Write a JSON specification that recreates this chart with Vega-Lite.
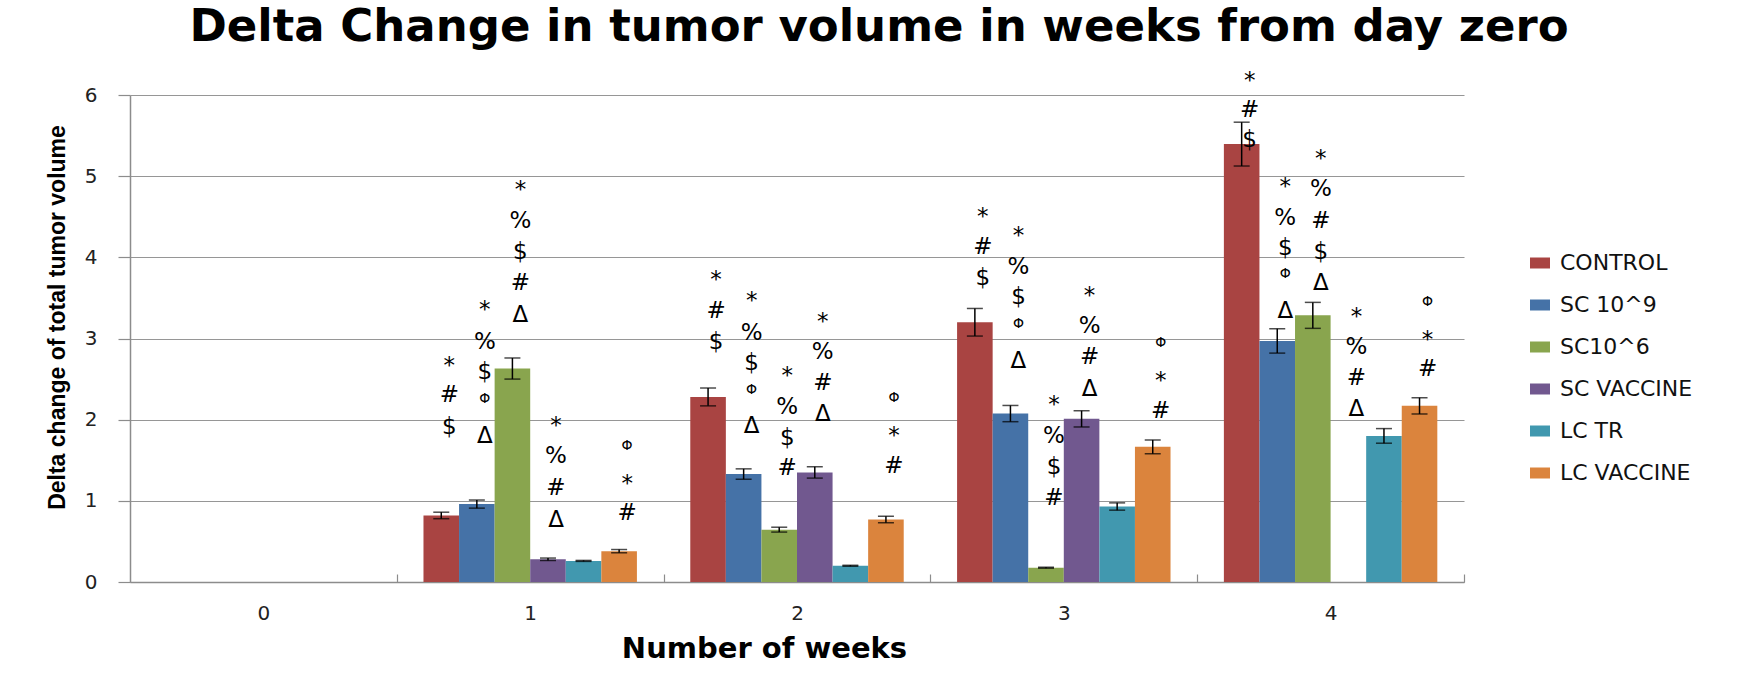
{
  "$schema": "https://vega.github.io/schema/vega-lite/v6.json",
  "width": 1334,
  "height": 487,
  "autosize": {"type": "none"},
  "padding": {"left": 130, "top": 95, "right": 298, "bottom": 105},
  "background": "white",
  "title": {
    "text": "Delta Change in tumor volume in weeks from day zero",
    "font": "DejaVu Sans",
    "fontSize": 45,
    "fontWeight": "bold",
    "color": "#000000",
    "anchor": "middle",
    "frame": "group",
    "dx": 82,
    "baseline": "alphabetic",
    "offset": -16
  },
  "datasets": {
    "bars": [
      {"week": 1, "group": "CONTROL", "value": 0.82, "err": 0.04},
      {"week": 1, "group": "SC 10^9", "value": 0.96, "err": 0.05},
      {"week": 1, "group": "SC10^6", "value": 2.63, "err": 0.13},
      {"week": 1, "group": "SC VACCINE", "value": 0.28, "err": 0.015},
      {"week": 1, "group": "LC TR", "value": 0.26, "err": 0.006},
      {"week": 1, "group": "LC VACCINE", "value": 0.38, "err": 0.02},
      {"week": 2, "group": "CONTROL", "value": 2.28, "err": 0.11},
      {"week": 2, "group": "SC 10^9", "value": 1.33, "err": 0.064},
      {"week": 2, "group": "SC10^6", "value": 0.645, "err": 0.03},
      {"week": 2, "group": "SC VACCINE", "value": 1.35, "err": 0.07},
      {"week": 2, "group": "LC TR", "value": 0.2, "err": 0.006},
      {"week": 2, "group": "LC VACCINE", "value": 0.77, "err": 0.04},
      {"week": 3, "group": "CONTROL", "value": 3.2, "err": 0.17},
      {"week": 3, "group": "SC 10^9", "value": 2.075, "err": 0.1},
      {"week": 3, "group": "SC10^6", "value": 0.176, "err": 0.006},
      {"week": 3, "group": "SC VACCINE", "value": 2.01, "err": 0.1},
      {"week": 3, "group": "LC TR", "value": 0.93, "err": 0.045},
      {"week": 3, "group": "LC VACCINE", "value": 1.665, "err": 0.085},
      {"week": 4, "group": "CONTROL", "value": 5.395, "err": 0.27},
      {"week": 4, "group": "SC 10^9", "value": 2.97, "err": 0.15},
      {"week": 4, "group": "SC10^6", "value": 3.285, "err": 0.16},
      {"week": 4, "group": "LC TR", "value": 1.8, "err": 0.09},
      {"week": 4, "group": "LC VACCINE", "value": 2.17, "err": 0.1}
    ],
    "notes": [
      {"week": 1, "group": "CONTROL", "sym": "*", "pos": 2.74},
      {"week": 1, "group": "CONTROL", "sym": "#", "pos": 2.31},
      {"week": 1, "group": "CONTROL", "sym": "$", "pos": 1.91},
      {"week": 1, "group": "SC 10^9", "sym": "*", "pos": 3.42},
      {"week": 1, "group": "SC 10^9", "sym": "%", "pos": 2.96},
      {"week": 1, "group": "SC 10^9", "sym": "$", "pos": 2.59},
      {"week": 1, "group": "SC 10^9", "sym": "Φ", "pos": 2.25},
      {"week": 1, "group": "SC 10^9", "sym": "Δ", "pos": 1.8},
      {"week": 1, "group": "SC10^6", "sym": "*", "pos": 4.9},
      {"week": 1, "group": "SC10^6", "sym": "%", "pos": 4.45},
      {"week": 1, "group": "SC10^6", "sym": "$", "pos": 4.07},
      {"week": 1, "group": "SC10^6", "sym": "#", "pos": 3.68},
      {"week": 1, "group": "SC10^6", "sym": "Δ", "pos": 3.29},
      {"week": 1, "group": "SC VACCINE", "sym": "*", "pos": 1.99},
      {"week": 1, "group": "SC VACCINE", "sym": "%", "pos": 1.55},
      {"week": 1, "group": "SC VACCINE", "sym": "#", "pos": 1.155},
      {"week": 1, "group": "SC VACCINE", "sym": "Δ", "pos": 0.77},
      {"week": 1, "group": "LC VACCINE", "sym": "Φ", "pos": 1.68},
      {"week": 1, "group": "LC VACCINE", "sym": "*", "pos": 1.28},
      {"week": 1, "group": "LC VACCINE", "sym": "#", "pos": 0.85},
      {"week": 2, "group": "CONTROL", "sym": "*", "pos": 3.79},
      {"week": 2, "group": "CONTROL", "sym": "#", "pos": 3.34},
      {"week": 2, "group": "CONTROL", "sym": "$", "pos": 2.96},
      {"week": 2, "group": "SC 10^9", "sym": "*", "pos": 3.54},
      {"week": 2, "group": "SC 10^9", "sym": "%", "pos": 3.07},
      {"week": 2, "group": "SC 10^9", "sym": "$", "pos": 2.7},
      {"week": 2, "group": "SC 10^9", "sym": "Φ", "pos": 2.37},
      {"week": 2, "group": "SC 10^9", "sym": "Δ", "pos": 1.92},
      {"week": 2, "group": "SC10^6", "sym": "*", "pos": 2.61},
      {"week": 2, "group": "SC10^6", "sym": "%", "pos": 2.16},
      {"week": 2, "group": "SC10^6", "sym": "$", "pos": 1.78},
      {"week": 2, "group": "SC10^6", "sym": "#", "pos": 1.4},
      {"week": 2, "group": "SC VACCINE", "sym": "*", "pos": 3.28},
      {"week": 2, "group": "SC VACCINE", "sym": "%", "pos": 2.83},
      {"week": 2, "group": "SC VACCINE", "sym": "#", "pos": 2.45},
      {"week": 2, "group": "SC VACCINE", "sym": "Δ", "pos": 2.07},
      {"week": 2, "group": "LC VACCINE", "sym": "Φ", "pos": 2.27},
      {"week": 2, "group": "LC VACCINE", "sym": "*", "pos": 1.87},
      {"week": 2, "group": "LC VACCINE", "sym": "#", "pos": 1.43},
      {"week": 3, "group": "CONTROL", "sym": "*", "pos": 4.57},
      {"week": 3, "group": "CONTROL", "sym": "#", "pos": 4.13},
      {"week": 3, "group": "CONTROL", "sym": "$", "pos": 3.74},
      {"week": 3, "group": "SC 10^9", "sym": "*", "pos": 4.34},
      {"week": 3, "group": "SC 10^9", "sym": "%", "pos": 3.88},
      {"week": 3, "group": "SC 10^9", "sym": "$", "pos": 3.51},
      {"week": 3, "group": "SC 10^9", "sym": "Φ", "pos": 3.18},
      {"week": 3, "group": "SC 10^9", "sym": "Δ", "pos": 2.72},
      {"week": 3, "group": "SC10^6", "sym": "*", "pos": 2.25},
      {"week": 3, "group": "SC10^6", "sym": "%", "pos": 1.8},
      {"week": 3, "group": "SC10^6", "sym": "$", "pos": 1.42},
      {"week": 3, "group": "SC10^6", "sym": "#", "pos": 1.03},
      {"week": 3, "group": "SC VACCINE", "sym": "*", "pos": 3.6},
      {"week": 3, "group": "SC VACCINE", "sym": "%", "pos": 3.16},
      {"week": 3, "group": "SC VACCINE", "sym": "#", "pos": 2.77},
      {"week": 3, "group": "SC VACCINE", "sym": "Δ", "pos": 2.38},
      {"week": 3, "group": "LC VACCINE", "sym": "Φ", "pos": 2.94},
      {"week": 3, "group": "LC VACCINE", "sym": "*", "pos": 2.55},
      {"week": 3, "group": "LC VACCINE", "sym": "#", "pos": 2.11},
      {"week": 4, "group": "CONTROL", "sym": "*", "pos": 6.25},
      {"week": 4, "group": "CONTROL", "sym": "#", "pos": 5.82},
      {"week": 4, "group": "CONTROL", "sym": "$", "pos": 5.44},
      {"week": 4, "group": "SC 10^9", "sym": "*", "pos": 4.94},
      {"week": 4, "group": "SC 10^9", "sym": "%", "pos": 4.49},
      {"week": 4, "group": "SC 10^9", "sym": "$", "pos": 4.12},
      {"week": 4, "group": "SC 10^9", "sym": "Φ", "pos": 3.79},
      {"week": 4, "group": "SC 10^9", "sym": "Δ", "pos": 3.34},
      {"week": 4, "group": "SC10^6", "sym": "*", "pos": 5.28},
      {"week": 4, "group": "SC10^6", "sym": "%", "pos": 4.84},
      {"week": 4, "group": "SC10^6", "sym": "#", "pos": 4.45},
      {"week": 4, "group": "SC10^6", "sym": "$", "pos": 4.07},
      {"week": 4, "group": "SC10^6", "sym": "Δ", "pos": 3.68},
      {"week": 4, "group": "SC VACCINE", "sym": "*", "pos": 3.34},
      {"week": 4, "group": "SC VACCINE", "sym": "%", "pos": 2.9},
      {"week": 4, "group": "SC VACCINE", "sym": "#", "pos": 2.51},
      {"week": 4, "group": "SC VACCINE", "sym": "Δ", "pos": 2.13},
      {"week": 4, "group": "LC VACCINE", "sym": "Φ", "pos": 3.45},
      {"week": 4, "group": "LC VACCINE", "sym": "*", "pos": 3.06},
      {"week": 4, "group": "LC VACCINE", "sym": "#", "pos": 2.62}
    ]
  },
  "encoding": {
    "x": {
      "field": "week",
      "type": "ordinal",
      "scale": {"domain": [0, 1, 2, 3, 4], "paddingInner": 0.2, "paddingOuter": 0.1},
      "axis": {
        "title": "Number of weeks",
        "titleFont": "DejaVu Sans",
        "titleFontSize": 29,
        "titleFontWeight": "bold",
        "titleColor": "#000000",
        "titleX": 634,
        "titleY": 75,
        "titleBaseline": "alphabetic",
        "titleAlign": "center",
        "labelAngle": 0,
        "labelFont": "DejaVu Sans",
        "labelFontSize": 20,
        "labelColor": "#222222",
        "labelPadding": 29,
        "bandPosition": 1,
        "tickExtra": false,
        "tickOffset": 26.68,
        "labelOffset": -26.68,
        "tickSize": -8,
        "tickColor": "#8c8c8c",
        "tickWidth": 1.2,
        "domainColor": "#8c8c8c",
        "domainWidth": 1.5,
        "grid": false
      }
    },
    "xOffset": {
      "field": "group",
      "type": "nominal",
      "scale": {"domain": ["CONTROL", "SC 10^9", "SC10^6", "SC VACCINE", "LC TR", "LC VACCINE"], "paddingInner": 0, "paddingOuter": 0}
    }
  },
  "layer": [
    {
      "data": {"name": "bars"},
      "mark": {"type": "bar", "strokeWidth": 0},
      "encoding": {
        "y": {
          "field": "value",
          "type": "quantitative",
          "scale": {"domain": [0, 6], "nice": false, "zero": true},
          "axis": {
            "title": "Delta change of total tumor volume",
            "titleFont": "Liberation Sans",
            "titleFontSize": 23,
            "titleFontWeight": "bold",
            "titleColor": "#000000",
            "titleAngle": -90,
            "titleX": -66,
            "titleY": 222,
            "titleBaseline": "alphabetic",
            "titleAlign": "center",
            "values": [0, 1, 2, 3, 4, 5, 6],
            "format": "d",
            "labelFont": "DejaVu Sans",
            "labelFontSize": 20,
            "labelColor": "#222222",
            "labelPadding": 21,
            "tickSize": 12,
            "tickColor": "#8c8c8c",
            "tickWidth": 1.2,
            "domainColor": "#8c8c8c",
            "domainWidth": 1.5,
            "grid": true,
            "gridColor": "#969696",
            "gridWidth": 1.2
          }
        },
        "color": {
          "field": "group",
          "type": "nominal",
          "scale": {
            "domain": ["CONTROL", "SC 10^9", "SC10^6", "SC VACCINE", "LC TR", "LC VACCINE"],
            "range": ["#A94442", "#4572A7", "#89A54E", "#71588F", "#4198AF", "#DB843D"]
          },
          "legend": {
            "title": null,
            "orient": "none",
            "legendX": 1399,
            "legendY": 157,
            "padding": 0,
            "symbolType": "M-1,-0.55H1V0.55H-1Z",
            "symbolSize": 400,
            "symbolStrokeWidth": 0,
            "symbolOpacity": 1,
            "labelFont": "DejaVu Sans",
            "labelFontSize": 22,
            "labelColor": "#111111",
            "labelOffset": 9,
            "labelLimit": 400,
            "rowPadding": 20
          }
        }
      }
    },
    {
      "data": {"name": "bars"},
      "transform": [
        {"calculate": "datum.value - datum.err", "as": "lo"},
        {"calculate": "datum.value + datum.err", "as": "hi"}
      ],
      "layer": [
        {
          "mark": {"type": "rule", "color": "#000000", "strokeWidth": 1.5},
          "encoding": {
            "y": {"field": "lo", "type": "quantitative"},
            "y2": {"field": "hi"}
          }
        },
        {
          "mark": {"type": "tick", "color": "#000000", "thickness": 1.5, "size": 16},
          "encoding": {"y": {"field": "lo", "type": "quantitative"}}
        },
        {
          "mark": {"type": "tick", "color": "#000000", "thickness": 1.5, "size": 16},
          "encoding": {"y": {"field": "hi", "type": "quantitative"}}
        }
      ]
    },
    {
      "data": {"name": "notes"},
      "transform": [{"filter": "datum.sym !== '*'"}],
      "mark": {"type": "text", "font": "DejaVu Sans", "color": "#000000", "align": "center", "baseline": "middle", "dx": 8},
      "encoding": {
        "y": {"field": "pos", "type": "quantitative"},
        "text": {"field": "sym"},
        "size": {"condition": {"test": "datum.sym === 'Φ'", "value": 14}, "value": 23}
      }
    },
    {
      "data": {"name": "notes"},
      "transform": [{"filter": "datum.sym === '*'"}],
      "mark": {"type": "text", "font": "DejaVu Sans", "color": "#000000", "align": "center", "baseline": "middle", "dx": 8, "dy": 6, "fontSize": 23},
      "encoding": {
        "y": {"field": "pos", "type": "quantitative"},
        "text": {"field": "sym"}
      }
    }
  ],
  "config": {
    "view": {"stroke": null}
  }
}
